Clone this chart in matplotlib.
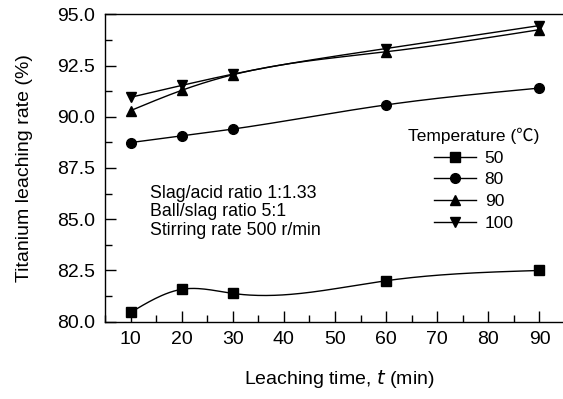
import numpy as np
import matplotlib
matplotlib.use('Agg')
import matplotlib.pyplot as plt
from matplotlib.ticker import MultipleLocator

# Leaching time (min)
time_min = [10, 20, 30, 60, 90]

# Titanium leaching rate (%) at each temperature
rate_50 = [80.45, 81.58, 81.38, 82.0, 82.5]
rate_80 = [88.74, 89.07, 89.40, 90.58, 91.40]
rate_90 = [90.30, 91.29, 92.05, 93.17, 94.25]
rate_100 = [90.95, 91.53, 92.08, 93.33, 94.45]

temp_labels = ["50", "80", "90", "100"]
conditions = ["Slag/acid ratio 1:1.33", "Ball/slag ratio 5:1", "Stirring rate 500 r/min"]


def natural_spline(x, y, n=200):
    """Natural cubic spline through the points, used only for the smooth connecting line."""
    x = np.asarray(x, dtype=float)
    y = np.asarray(y, dtype=float)
    k = len(x)
    h = np.diff(x)
    A = np.zeros((k, k))
    b = np.zeros(k)
    A[0, 0] = A[-1, -1] = 1.0
    for i in range(1, k - 1):
        A[i, i - 1] = h[i - 1]
        A[i, i] = 2 * (h[i - 1] + h[i])
        A[i, i + 1] = h[i]
        b[i] = 3 * ((y[i + 1] - y[i]) / h[i] - (y[i] - y[i - 1]) / h[i - 1])
    c = np.linalg.solve(A, b)
    xs = np.linspace(x[0], x[-1], n)
    ys = np.empty_like(xs)
    for j, xv in enumerate(xs):
        i = min(np.searchsorted(x, xv, side="right") - 1, k - 2)
        dx = xv - x[i]
        bi = (y[i + 1] - y[i]) / h[i] - h[i] * (2 * c[i] + c[i + 1]) / 3
        di = (c[i + 1] - c[i]) / (3 * h[i])
        ys[j] = y[i] + bi * dx + c[i] * dx ** 2 + di * dx ** 3
    return xs, ys


plt.rcParams['font.family'] = ['Liberation Sans', 'DejaVu Sans']

W, H = 563, 399
fig = plt.figure(figsize=(W / 100, H / 100), dpi=100)
ax = fig.add_axes([105 / W, (H - 321.7) / H, 458 / W, (321.7 - 14.3) / H])

series = [rate_50, rate_80, rate_90, rate_100]
markers = ["s", "o", "^", "v"]
for vals, mk, lab in zip(series, markers, temp_labels):
    xs, ys = natural_spline(time_min, vals)
    ax.plot(xs, ys, color="black", linewidth=1.0, zorder=2)
    ax.plot(time_min, vals, linestyle="none", marker=mk, markersize=7,
            color="black", zorder=3)
    # legend proxy: line with marker in the middle
    ax.plot([], [], color="black", linewidth=1.0, marker=mk, markersize=7, label=lab)

ax.set_xlim(5, 94.6)
ax.set_ylim(80.0, 95.0)
ax.xaxis.set_minor_locator(MultipleLocator(5))
ax.yaxis.set_minor_locator(MultipleLocator(1.25))
ax.set_xticks(np.arange(10, 91, 10))
ax.set_yticks(np.arange(80.0, 95.1, 2.5))
ax.set_yticklabels([f"{v:.1f}" for v in np.arange(80.0, 95.1, 2.5)])

ax.tick_params(which="both", direction="in", top=False, right=False, labelsize=14, width=1.0)
ax.tick_params(which="major", length=8)
ax.tick_params(axis="x", which="major", pad=7)
ax.tick_params(axis="y", which="major", pad=7)
ax.tick_params(which="minor", length=5)
ax.spines["right"].set_visible(False)
for s in ["left", "bottom", "top"]:
    ax.spines[s].set_linewidth(1.0)

ax.set_ylabel("Titanium leaching rate (%)", fontsize=14)
ax.yaxis.set_label_coords((33 - 105) / 458, 0.5)
ax.set_xlabel("Leaching time, $\\it{t}$ (min)", fontsize=14)
ax.xaxis.set_label_coords((339 - 105) / 458, -(368 - 321.7) / 307.4)

for i, txt in enumerate(conditions):
    fig.text(150 / W, 1 - (193.5 + 18.3 * i) / H, txt, fontsize=12.8, va="center", ha="left")

leg = ax.legend(loc="upper center", bbox_to_anchor=(474 / W, 1 - 119 / H),
                bbox_transform=fig.transFigure, frameon=False, fontsize=12.5,
                handlelength=2.4, handletextpad=0.5, labelspacing=0.38,
                borderpad=0.0, title="Temperature (\u2103)",
                title_fontproperties={"size": 12.5, "family": ["Liberation Sans", "Noto Sans CJK SC"]})

fig.savefig("out.png", dpi=100)
